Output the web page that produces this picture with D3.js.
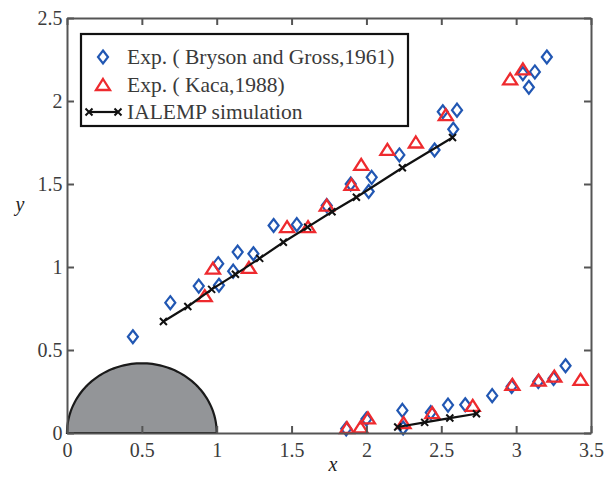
<!DOCTYPE html>
<html>
<head>
<meta charset="utf-8">
<script src="https://cdn.jsdelivr.net/npm/d3@7"></script>
<style>
  body { margin: 0; background: #fff; }
  svg text { font-family: "Liberation Serif", "Times New Roman", serif; }
</style>
</head>
<body>
<svg id="chart"></svg>
<script>
var width = 605;
var height = 477;

// Bryson and Gross (1961), upper and lower branches
var brysonUpper = [[0.44,0.58],[0.69,0.785],[0.88,0.885],[1.015,0.89],[1.01,1.02],[1.11,0.975],
  [1.14,1.09],[1.245,1.08],[1.38,1.25],[1.535,1.255],[1.735,1.37],[1.895,1.50],[2.015,1.455],
  [2.035,1.54],[2.22,1.675],[2.455,1.705],[2.51,1.935],[2.58,1.83],[2.605,1.945],[3.045,2.165],
  [3.085,2.083],[3.125,2.175],[3.205,2.265]];
var brysonLower = [[1.865,0.025],[2.0,0.084],[2.24,0.136],[2.245,0.03],[2.43,0.123],[2.545,0.168],
  [2.66,0.17],[2.84,0.225],[2.97,0.28],[3.148,0.31],[3.25,0.328],[3.33,0.405]];

// Kaca (1988)
var kacaUpper = [[0.92,0.825],[0.975,0.99],[1.215,0.995],[1.47,1.24],[1.61,1.24],[1.735,1.37],
  [1.90,1.495],[1.965,1.615],[2.14,1.705],[2.33,1.75],[2.53,1.915],[2.96,2.13],[3.045,2.19]];
var kacaLower = [[1.87,0.03],[1.96,0.034],[2.01,0.088],[2.248,0.06],[2.44,0.12],[2.71,0.163],
  [2.975,0.29],[3.15,0.315],[3.255,0.34],[3.43,0.32]];

// IALEMP simulation
var simUpper = [[0.644,0.672],[0.807,0.762],[0.966,0.865],[1.125,0.956],[1.287,1.052],[1.445,1.149],
  [1.607,1.24],[1.77,1.333],[1.933,1.42],[2.24,1.598],[2.575,1.78]];
var simLower = [[2.209,0.036],[2.389,0.064],[2.557,0.09],[2.735,0.116]];

var xTicks = [0, 0.5, 1, 1.5, 2, 2.5, 3, 3.5];
var yTicks = [0, 0.5, 1, 1.5, 2, 2.5];

var legendLabels = ["Exp. ( Bryson and Gross,1961)", "Exp. ( Kaca,1988)", "IALEMP simulation"];

// cylinder section drawn at the origin
var bodyCenter = 0.5, bodyRx = 0.5, bodyRy = 0.42;

var blue = "#2157b3", red = "#ee2a2e";

var svg = d3.select("#chart").attr("width", width).attr("height", height);

var x = d3.scaleLinear().domain([0, 3.5]).range([67, 591]);
var y = d3.scaleLinear().domain([0, 2.5]).range([433, 18]);

var diamond = "M0,-6.5L5,0L0,6.5L-5,0Z";
var triangle = "M0,-6L7,5L-7,5Z";
var cross = "M-3.5,-3.5L3.5,3.5M-3.5,3.5L3.5,-3.5";

// half body
var angles = d3.range(0, 181, 2);
var body = d3.line()
  .x(function(a) { return x(bodyCenter + bodyRx * Math.cos(a * Math.PI / 180)); })
  .y(function(a) { return y(bodyRy * Math.sin(a * Math.PI / 180)); });
svg.append("path")
  .attr("d", body(angles) + "Z")
  .attr("fill", "#939598")
  .attr("stroke", "#1a1a1a")
  .attr("stroke-width", 2.2);

function drawMarks(data, shape, color, sw) {
  svg.append("g").selectAll("path")
    .data(data)
    .enter().append("path")
    .attr("d", shape)
    .attr("transform", function(d) { return "translate(" + x(d[0]) + "," + y(d[1]) + ")"; })
    .attr("fill", "none")
    .attr("stroke", color)
    .attr("stroke-width", sw);
}

drawMarks(brysonUpper, diamond, blue, 2.2);
drawMarks(brysonLower, diamond, blue, 2.2);
drawMarks(kacaUpper, triangle, red, 2.3);
drawMarks(kacaLower, triangle, red, 2.3);

var line = d3.line().x(function(d) { return x(d[0]); }).y(function(d) { return y(d[1]); });
[simUpper, simLower].forEach(function(s) {
  svg.append("path")
    .attr("d", line(s))
    .attr("fill", "none")
    .attr("stroke", "#111")
    .attr("stroke-width", 2.2);
  drawMarks(s, cross, "#111", 2);
});

// axes: ticks inside on all four sides
var fmt = function(d) { return String(d); };
var axisColor = "#555";

var gx = svg.append("g").attr("transform", "translate(0,433)")
  .call(d3.axisBottom(x).tickValues(xTicks).tickSizeInner(-7).tickSizeOuter(0).tickPadding(9.5).tickFormat(fmt));
var gy = svg.append("g").attr("transform", "translate(67,0)")
  .call(d3.axisLeft(y).tickValues(yTicks).tickSizeInner(-7).tickSizeOuter(0).tickPadding(4.5).tickFormat(fmt));
var gt = svg.append("g").attr("transform", "translate(0,18)")
  .call(d3.axisTop(x).tickValues(xTicks).tickSizeInner(-7).tickSizeOuter(0).tickFormat(""));
var gr = svg.append("g").attr("transform", "translate(591,0)")
  .call(d3.axisRight(y).tickValues(yTicks).tickSizeInner(-7).tickSizeOuter(0).tickFormat(""));

[gx, gy, gt, gr].forEach(function(g) {
  g.selectAll("path, line").attr("stroke", axisColor).attr("stroke-width", 2);
  g.selectAll("text").attr("fill", "#3c3c3c").style("font-size", "20px")
    .style("font-family", "'Liberation Serif', serif");
});

svg.append("text").attr("x", 333).attr("y", 471)
  .attr("text-anchor", "middle").attr("font-style", "italic").attr("font-size", 20)
  .attr("fill", "#222").text("x");
svg.append("text").attr("x", 20).attr("y", 211)
  .attr("text-anchor", "middle").attr("font-style", "italic").attr("font-size", 20)
  .attr("fill", "#222").text("y");

// legend
var lg = svg.append("g");
lg.append("rect")
  .attr("x", 81).attr("y", 34).attr("width", 327).attr("height", 92)
  .attr("fill", "#fff").attr("stroke", "#111").attr("stroke-width", 2.2);

var rowY = [57, 85, 112];
lg.append("path").attr("d", diamond).attr("transform", "translate(103," + rowY[0] + ")")
  .attr("fill", "none").attr("stroke", blue).attr("stroke-width", 2.2);
lg.append("path").attr("d", triangle).attr("transform", "translate(103," + rowY[1] + ")")
  .attr("fill", "none").attr("stroke", red).attr("stroke-width", 2.3);
lg.append("line").attr("x1", 89).attr("x2", 118).attr("y1", rowY[2]).attr("y2", rowY[2])
  .attr("stroke", "#111").attr("stroke-width", 2.2);
[89, 118].forEach(function(px) {
  lg.append("path").attr("d", cross).attr("transform", "translate(" + px + "," + rowY[2] + ")")
    .attr("fill", "none").attr("stroke", "#111").attr("stroke-width", 2);
});

lg.selectAll("text.leg")
  .data(legendLabels)
  .enter().append("text")
  .attr("class", "leg")
  .attr("x", 127)
  .attr("y", function(d, i) { return rowY[i] + 7; })
  .attr("font-size", 21.5)
  .attr("fill", "#3a3a3a")
  .text(function(d) { return d; });
</script>
</body>
</html>
